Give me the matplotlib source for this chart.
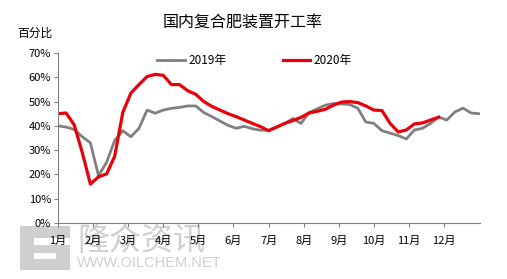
import numpy as np
from matplotlib import pyplot as plt

plt.rcParams['font.family'] = ['Noto Sans CJK SC', 'DejaVu Sans']

# 周度开工率(%),横坐标为第几周
y2019 = [40, 39.5, 38.5, 35.5, 33, 19.5, 25, 34, 38, 35.5, 39, 46.5, 45.2,
         46.5, 47.2, 47.6, 48.2, 48.2, 45.5, 43.8, 42, 40.2, 39, 39.8, 38.8,
         38.2, 38.2, 39.5, 41, 43, 41, 45.5, 47, 48.5, 49.2, 49, 48.8, 47.3,
         41.6, 41, 38, 37, 36, 34.6, 38.3, 39, 41, 43.6, 42.4, 45.7, 47.3,
         45.3, 45]
y2020 = [45, 45.3, 40.4, 29, 16, 19, 20.2, 27.5, 45.5, 53.5, 57, 60.3, 61.2,
         60.8, 57, 57, 54.5, 53, 50, 48, 46.5, 45, 43.8, 42.4, 41, 39.7, 38,
         39.5, 41, 42.2, 43.5, 45.3, 46, 46.8, 48.5, 49.8, 50, 49.6, 48.2,
         46.5, 46.3, 41, 37.5, 38.3, 40.8, 41.2, 42.4, 43.6]
months = ['1月', '2月', '3月', '4月', '5月', '6月', '7月', '8月', '9月',
          '10月', '11月', '12月']
yticks = [0, 10, 20, 30, 40, 50, 60, 70]

W, H = 507, 279
fig = plt.figure(figsize=(W / 100, H / 100), dpi=100)
ax = fig.add_axes([58 / W, 1 - 223 / H, 422 / W, 170 / H], zorder=2)

# 水印 (logo + 文字)
def box(x0, y0, x1, y1, c):
    fig.patches.append(plt.Rectangle((x0 / W, 1 - y1 / H), (x1 - x0) / W, (y1 - y0) / H,
                                     transform=fig.transFigure, facecolor=c,
                                     edgecolor='none', zorder=0.5))

box(20, 226, 70, 270, '#cfcfcf')
box(34, 238, 70, 245, 'white')
box(34, 253, 56, 259, 'white')
fig.text(77 / W, 1 - 241 / H, '隆众资讯', fontsize=23, color='#cfcfcf', va='center', zorder=0.5)
fig.text(77 / W, 1 - 263 / H, 'WWW.OILCHEM.NET', fontsize=10.5, color='#cfcfcf', va='center',
         family='Liberation Sans', zorder=0.5)

ax.plot(np.arange(len(y2019)), y2019, color='#808080', lw=2.0, label='2019年')
ax.plot(np.arange(len(y2020)), y2020, color='#e8000b', lw=2.3, label='2020年')

ax.set_xlim(0, 52.1)
ax.set_ylim(0, 70)
ax.set_xticks([i * 52 / 12 for i in range(12)])
ax.set_xticklabels(months, fontsize=8)
ax.set_yticks(yticks)
ax.set_yticklabels([f'{v}%' for v in yticks], fontsize=8)
ax.tick_params(direction='out', length=3, color='#808080', pad=6)
ax.tick_params(axis='y', pad=2)
for s in ['top', 'right']:
    ax.spines[s].set_visible(False)
for s in ['left', 'bottom']:
    ax.spines[s].set_color('#808080')
ax.patch.set_alpha(0)

fig.text(243 / W, 1 - 22 / H, '国内复合肥装置开工率', fontsize=11.5, ha='center', va='center')
fig.text(17 / W, 1 - 33 / H, '百分比', fontsize=8.5, va='center')
ax.legend(loc='center', bbox_to_anchor=(0.466, 0.953), ncol=2, frameon=False,
          fontsize=8.5, handlelength=2.3, handletextpad=0.3, columnspacing=4.8)

plt.savefig('out.png', dpi=100)
